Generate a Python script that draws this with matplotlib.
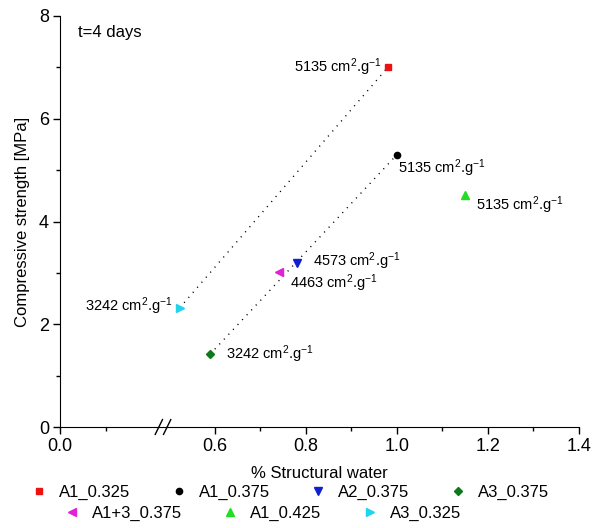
import matplotlib.pyplot as plt
import matplotlib.lines as mlines
import numpy as np

plt.rcParams['font.family'] = ['Liberation Sans', 'DejaVu Sans']
plt.rcParams['mathtext.fontset'] = 'custom'
plt.rcParams['mathtext.rm'] = 'Liberation Sans'
plt.rcParams['mathtext.it'] = 'Liberation Sans:italic'

# data
names = ['A1_0.325', 'A1_0.375', 'A2_0.375', 'A3_0.375', 'A1+3_0.375', 'A1_0.425', 'A3_0.325']
water = [0.98, 1.0, 0.78, 0.59, 0.74, 1.15, 0.523]
strength = [7.0, 5.3, 3.2, 1.42, 3.02, 4.52, 2.32]
fineness = ['5135', '5135', '4573', '3242', '4463', '5135', '3242']
markers = ['s', 'o', 'v', 'D', '<', '^', '>']
colors = ['#ee1111', '#000000', '#1020d0', '#0b7a1b', '#e021d8', '#22dd22', '#22d3ee']
sizes = [4.5, 4.5, 5.5, 4, 5.5, 5.5, 5.5]
# label offsets in points (dx, dy) and alignment
offsets = [(-4.5, -3.5), (1, -13.5), (11.5, -2.5), (11.5, -3.5), (8.5, -11.5), (8, -11), (-5, -2.5)]
aligns = ['right', 'left', 'left', 'left', 'left', 'left', 'right']
# dotted trend lines: pairs of series index
links = [(6, 0), (3, 1)]

# broken x axis: gap between 0.225 and 0.485
b0, gap = 0.225, 0.26
def fwd(x):
    x = np.asarray(x, dtype=float)
    return np.where(x <= b0, x, np.where(x >= b0 + gap, x - gap, b0))
def inv(u):
    u = np.asarray(u, dtype=float)
    return np.where(u <= b0, u, u + gap)

fig = plt.figure(figsize=(6.08, 5.28), dpi=100)
ax = fig.add_axes([60/608, 1-427/528, 519/608, 411/528])
ax.set_xscale('function', functions=(fwd, inv))

for a, b in links:
    ax.plot([water[a], water[b]], [strength[a], strength[b]], color='black',
            lw=1.0, dashes=(0.8, 4), zorder=1)

for i in range(len(names)):
    ax.plot(water[i], strength[i], linestyle='none', marker=markers[i], ms=sizes[i],
            color=colors[i], zorder=3)
    ax.annotate(fineness[i] + r' cm$^{2}$.g$^{-1}$', (water[i], strength[i]),
                xytext=offsets[i], textcoords='offset points', ha=aligns[i],
                va='baseline', fontsize=10.5)

ax.set_xlim(0, 1.4)
ax.set_ylim(0, 8)
ax.set_xticks([0.0, 0.6, 0.8, 1.0, 1.2, 1.4])
ax.set_xticklabels(['0.0', '0.6', '0.8', '1.0', '1.2', '1.4'])
ax.set_xticks([0.1, 0.7, 0.9, 1.1, 1.3], minor=True)
ax.set_yticks([0, 2, 4, 6, 8])
ax.set_yticks([1, 3, 5, 7], minor=True)
ax.tick_params(which='major', length=5, width=1, labelsize=13, pad=3)
ax.tick_params(which='minor', length=3, width=1)
ax.spines['top'].set_visible(False)
ax.spines['right'].set_visible(False)

# break marks
bx = (163 - 60) / 519
for dx in (-0.008, 0.008):
    ax.plot([bx + dx - 0.007, bx + dx + 0.007], [-0.018, 0.018], transform=ax.transAxes,
            color='black', lw=1, clip_on=False)

ax.text(0.035, 0.961, 't=4 days', transform=ax.transAxes, fontsize=12, va='center')
ax.set_ylabel('Compressive strength [MPa]', fontsize=12, labelpad=6)
ax.set_xlabel('% Structural water', fontsize=12, labelpad=8)

handles = [mlines.Line2D([], [], linestyle='none', marker=markers[i], color=colors[i],
                         ms=sizes[i]) for i in range(len(names))]
kw = dict(frameon=False, fontsize=12, handlelength=1.0, handletextpad=0.7,
          columnspacing=2.4, borderpad=0, borderaxespad=0, loc='center')
fig.legend(handles[:4], names[:4], ncol=4, bbox_to_anchor=(290/608, 1-492/528), **kw)
fig.legend(handles[4:], names[4:], ncol=3, bbox_to_anchor=(262/608, 1-513/528), **kw)

fig.savefig('out.png', dpi=100)
